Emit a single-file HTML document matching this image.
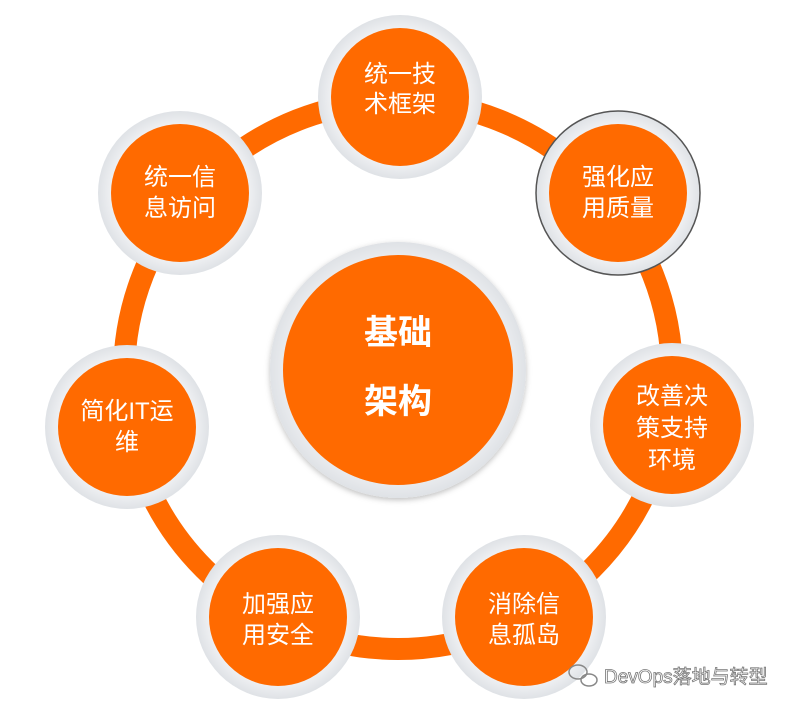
<!DOCTYPE html>
<html><head><meta charset="utf-8"><style>
html,body{margin:0;padding:0;background:#fff;}
svg text{font-family:"Liberation Sans","Noto Sans CJK SC",sans-serif;fill:#fff;}
</style></head><body>
<svg width="791" height="711" viewBox="0 0 791 711" xmlns="http://www.w3.org/2000/svg">
<defs>
<radialGradient id="g" cx="50%" cy="50%" r="50%">
<stop offset="80%" stop-color="#f2f3f5"/><stop offset="100%" stop-color="#dfe2e6"/>
</radialGradient>
<filter id="s" x="-20%" y="-20%" width="140%" height="140%"><feDropShadow dx="0" dy="2" stdDeviation="3" flood-color="#000" flood-opacity="0.25"/></filter>
</defs>
<circle cx="398" cy="375" r="274" fill="none" stroke="#ff6a00" stroke-width="22"/>
<circle cx="398" cy="370" r="128" fill="url(#g)" filter="url(#s)"/>
<circle cx="398" cy="370" r="115" fill="#ff6a00"/>
<text x="398" y="344" font-size="34" font-weight="bold" text-anchor="middle">基础</text>
<text x="398" y="413" font-size="34" font-weight="bold" text-anchor="middle">架构</text>
<g font-size="24" text-anchor="middle">
<circle cx="400" cy="97" r="82" fill="url(#g)"/><circle cx="400" cy="97" r="69" fill="#ff6a00"/>
<text x="400" y="82">统一技</text><text x="400" y="112">术框架</text>
<circle cx="618" cy="193" r="82" fill="url(#g)" stroke="#555" stroke-width="1.5"/><circle cx="618" cy="193" r="69" fill="#ff6a00"/>
<text x="618" y="185">强化应</text><text x="618" y="216">用质量</text>
<circle cx="672" cy="425" r="82" fill="url(#g)"/><circle cx="672" cy="425" r="69" fill="#ff6a00"/>
<text x="672" y="404">改善决</text><text x="672" y="436">策支持</text><text x="672" y="468">环境</text>
<circle cx="524" cy="617" r="82" fill="url(#g)"/><circle cx="524" cy="617" r="69" fill="#ff6a00"/>
<text x="524" y="612">消除信</text><text x="524" y="643">息孤岛</text>
<circle cx="278" cy="617" r="82" fill="url(#g)"/><circle cx="278" cy="617" r="69" fill="#ff6a00"/>
<text x="278" y="612">加强应</text><text x="278" y="643">用安全</text>
<circle cx="127" cy="427" r="82" fill="url(#g)"/><circle cx="127" cy="427" r="69" fill="#ff6a00"/>
<text x="127" y="419">简化IT运</text><text x="127" y="450">维</text>
<circle cx="180" cy="193" r="82" fill="url(#g)"/><circle cx="180" cy="193" r="69" fill="#ff6a00"/>
<text x="180" y="185">统一信</text><text x="180" y="216">息访问</text>
</g>
<g fill="none" stroke="#888" stroke-width="1.5">
<ellipse cx="578" cy="672" rx="9" ry="7"/><ellipse cx="589" cy="680" rx="8" ry="6"/>
</g>
<text x="604" y="683" font-size="19" style="fill:#fff;stroke:#777;stroke-width:0.8">DevOps落地与转型</text>
</svg>
</body></html>
